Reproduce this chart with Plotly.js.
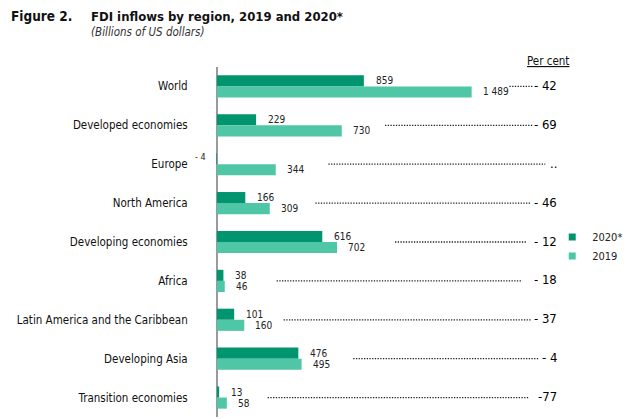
<!DOCTYPE html>
<html>
<head>
<meta charset="utf-8">
<script src="https://cdn.plot.ly/plotly-3.0.1.min.js"></script>
<style>html,body{margin:0;padding:0;background:#fff;}#chart{width:630px;height:419px;}</style>
</head>
<body>
<div id="chart"></div>
<script>
var regions = ["World","Developed economies","Europe","North America","Developing economies","Africa","Latin America and the Caribbean","Developing Asia","Transition economies"];
var fdi2020 = [859, 229, -4, 166, 616, 38, 101, 476, 13];
var fdi2019 = [1489, 730, 344, 309, 702, 46, 160, 495, 58];
var perCent = ["- 42", "- 69", "..", "- 46", "- 12", "- 18", "- 37", "- 4", "-77"];

// leader-dot pixel extents (layout styling only)
var leaderStartPx = [511, 386, 329, 316, 396, 277, 284, 354, 268];
var leaderEndPx   = [535, 534, 547, 533, 528, 524, 533, 540, 530];

var FONT = "DejaVu Sans Condensed, Liberation Sans Narrow, Arial Narrow, sans-serif";
var C2020 = "#00946f", C2019 = "#4fc6a6";

var plotL = 200, plotR = 600;
var zeroPx = 217, pxPerUnit = 256/1489;
var xmin = -(zeroPx - plotL)/pxPerUnit;
var xmax = xmin + (plotR - plotL)/pxPerUnit;
function pxToX(px){ return xmin + (px - plotL)/pxPerUnit; }
function paperX(px){ return (px - plotL)/(plotR - plotL); }
function paperY(py){ return (419 - 2 - py)/(419 - 67 - 2); }
function fmt(v){
  var s = String(Math.abs(v)).replace(/\B(?=(\d{3})+(?!\d))/g, " ");
  return v < 0 ? "- " + s : s;
}

var traces = [
  {type:"bar", orientation:"h", name:"2020*", y:regions, x:fdi2020, marker:{color:C2020}, showlegend:false, hoverinfo:"x+y"},
  {type:"bar", orientation:"h", name:"2019", y:regions, x:fdi2019, marker:{color:C2019}, showlegend:false, hoverinfo:"x+y"},
  {type:"scatter", mode:"markers", name:"2020*", x:[null], y:[null], marker:{symbol:"square", size:7, color:C2020}, showlegend:true},
  {type:"scatter", mode:"markers", name:"2019", x:[null], y:[null], marker:{symbol:"square", size:7, color:C2019}, showlegend:true}
];

var ann = [], shapes = [];
var barOff = 5.5;
regions.forEach(function(r, i){
  var v20 = fdi2020[i], v19 = fdi2019[i];
  if (v20 < 0) {
    ann.push({x:v20, y:r, xref:"x", yref:"y", text:fmt(v20), showarrow:false, xanchor:"right", yanchor:"middle", xshift:-8, yshift:barOff+2, font:{family:FONT, size:9, color:"#222"}});
  } else {
    ann.push({x:v20, y:r, xref:"x", yref:"y", text:fmt(v20), showarrow:false, xanchor:"left", yanchor:"middle", xshift:10, yshift:barOff, font:{family:FONT, size:10, color:"#222"}});
  }
  ann.push({x:v19, y:r, xref:"x", yref:"y", text:fmt(v19), showarrow:false, xanchor:"left", yanchor:"middle", xshift:9, yshift:-barOff, font:{family:FONT, size:10, color:"#222"}});
  ann.push({x:pxToX(561), y:r, xref:"x", yref:"y", text:perCent[i], showarrow:false, xanchor:"right", yanchor:"middle", yshift:1, font:{family:FONT, size:13, color:"#000"}});
  shapes.push({type:"line", xref:"x", yref:"y", x0:pxToX(leaderStartPx[i]), x1:pxToX(leaderEndPx[i]), y0:i, y1:i, line:{color:"#222", width:1.3, dash:"1.3px,1.4px"}});
});

ann.push({xref:"paper", yref:"paper", x:paperX(8), y:paperY(16), showarrow:false, text:"<b>Figure 2.</b>", font:{family:FONT, size:13.5, color:"#111"}, xanchor:"left", yanchor:"middle"});
ann.push({xref:"paper", yref:"paper", x:paperX(88), y:paperY(16), showarrow:false, text:"<b>FDI inflows by region, 2019 and 2020*</b>", font:{family:FONT, size:13, color:"#111"}, xanchor:"left", yanchor:"middle"});
ann.push({xref:"paper", yref:"paper", x:paperX(88), y:paperY(32), showarrow:false, text:"<i>(Billions of US dollars)</i>", font:{family:FONT, size:11.5, color:"#333"}, xanchor:"left", yanchor:"middle"});
ann.push({xref:"paper", yref:"paper", x:paperX(550), y:paperY(61), showarrow:false, text:"<u>Per cent</u>", font:{family:FONT, size:11.5, color:"#111"}, xanchor:"center", yanchor:"middle"});

var layout = {
  width:630, height:419,
  margin:{l:plotL, r:630-plotR, t:67, b:2},
  paper_bgcolor:"#fff", plot_bgcolor:"#fff",
  barmode:"group", bargap:0.43, bargroupgap:0,
  xaxis:{range:[xmin, xmax], showgrid:false, showticklabels:false, ticks:"", zeroline:true, zerolinecolor:"#9a9a9a", zerolinewidth:1.5, fixedrange:true},
  yaxis:{type:"category", autorange:"reversed", showgrid:false, zeroline:false, showline:false, ticks:"outside", ticklen:9, tickcolor:"rgba(0,0,0,0)", tickfont:{family:FONT, size:11.5, color:"#111"}, fixedrange:true},
  showlegend:true,
  legend:{x:0.885, y:0.556, xref:"paper", yref:"paper", xanchor:"left", yanchor:"top", font:{family:FONT, size:11, color:"#222"}, bgcolor:"rgba(0,0,0,0)", itemwidth:30, tracegroupgap:0},
  annotations:ann,
  shapes:shapes
};

Plotly.newPlot("chart", traces, layout, {displayModeBar:false, staticPlot:true});
</script>
</body>
</html>
